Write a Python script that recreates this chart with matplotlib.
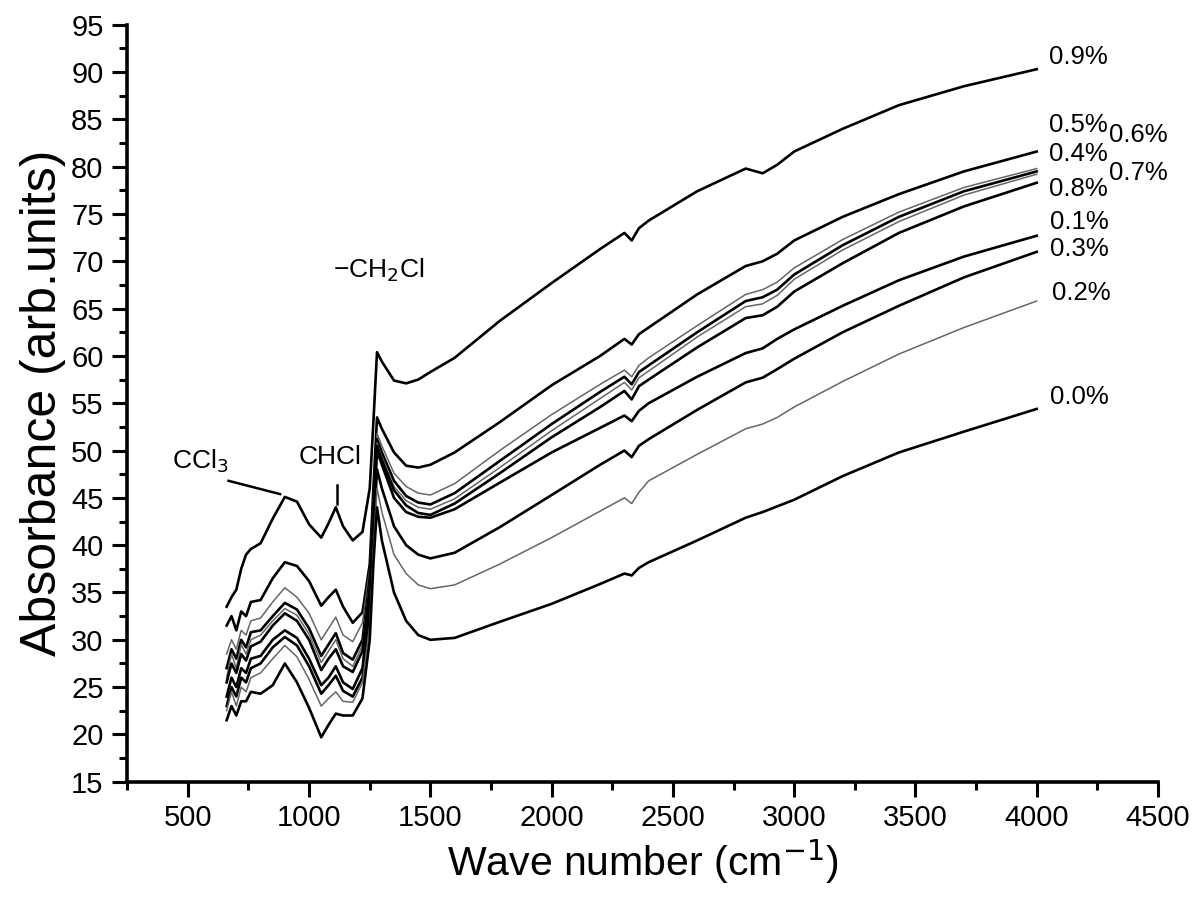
import matplotlib.pyplot as plt
from matplotlib.ticker import MultipleLocator

plt.rcParams['font.family'] = ['Liberation Sans', 'DejaVu Sans']

# wave numbers (cm-1) shared by all spectra
wn = [660, 680, 700, 720, 740, 760, 800, 850, 900, 950, 1000, 1050, 1080, 1110, 1140,
      1180, 1220, 1250, 1265, 1280, 1300, 1350, 1400, 1450, 1500,
      1600, 1786, 2000, 2200, 2300, 2330, 2360, 2400, 2600, 2800, 2870, 2930, 3000,
      3200, 3432, 3700, 4000]

s09 = [33.5, 34.5, 35.3, 37.5, 39.0, 39.6, 40.2, 42.8, 45.1, 44.6, 42.2, 40.8, 42.3, 44.0, 42.0,
       40.5, 41.4, 46.0, 53.0, 60.4, 59.4, 57.4, 57.1, 57.5, 58.3,
       59.8, 63.7, 67.7, 71.3, 73.0, 72.2, 73.5, 74.3, 77.4, 79.8, 79.3, 80.2, 81.6,
       84.0, 86.5, 88.5, 90.3]
s05 = [31.5, 32.5, 31.0, 33.0, 32.5, 34.0, 34.2, 36.5, 38.2, 37.8, 36.2, 33.6, 34.5, 35.3, 33.5,
       31.8, 32.9, 38.0, 46.0, 53.5, 52.3, 49.8, 48.4, 48.2, 48.5,
       49.8, 53.0, 56.9, 60.0, 61.8, 61.2, 62.3, 63.0, 66.5, 69.5, 70.0, 70.8, 72.2,
       74.7, 77.1, 79.5, 81.6]
s06 = [28.5, 30.0, 29.0, 31.0, 30.5, 32.0, 32.3, 34.0, 35.5, 34.5, 32.8, 30.0, 31.2, 32.4, 30.5,
       29.8, 31.8, 37.5, 45.0, 51.8, 50.5, 47.6, 46.2, 45.5, 45.3,
       46.5, 50.0, 53.8, 57.0, 58.5, 57.8, 59.0, 59.8, 63.2, 66.5, 67.0, 67.8, 69.3,
       72.3, 75.2, 77.8, 79.8]
s04 = [27.0, 29.0, 28.0, 30.0, 29.2, 30.8, 31.0, 32.5, 33.9, 33.2, 31.2, 28.3, 29.5, 30.7, 28.6,
       27.9, 30.0, 36.5, 44.5, 51.2, 49.8, 46.8, 45.2, 44.5, 44.3,
       45.5, 48.9, 52.8, 56.2, 57.8, 57.0, 58.3, 59.0, 62.5, 65.8, 66.2, 67.0, 68.6,
       71.7, 74.7, 77.4, 79.5]
s07 = [26.0, 28.5, 27.0, 29.5, 28.5, 30.0, 30.5, 32.0, 33.3, 32.6, 30.6, 27.6, 28.8, 30.0, 28.0,
       27.2, 29.4, 36.0, 44.0, 50.8, 49.3, 46.2, 44.7, 44.0, 43.8,
       44.9, 48.2, 52.1, 55.5, 57.2, 56.4, 57.7, 58.4, 62.0, 65.2, 65.5, 66.4, 68.1,
       71.2, 74.2, 77.0, 79.2]
s08 = [25.5, 27.5, 26.5, 28.5, 27.8, 29.3, 29.8, 31.5, 32.8, 32.0, 30.0, 26.8, 28.0, 29.0, 27.2,
       26.6, 28.8, 35.5, 43.5, 50.5, 49.0, 45.8, 44.2, 43.4, 43.2,
       44.4, 47.6, 51.4, 54.6, 56.3, 55.4, 56.8, 57.5, 60.9, 64.0, 64.3, 65.2, 66.8,
       69.8, 73.0, 75.8, 78.3]
s01 = [24.0, 26.0, 25.0, 27.0, 26.5, 28.0, 28.3, 30.0, 31.0, 30.2, 28.0, 25.2, 26.0, 27.2, 25.5,
       24.8, 27.0, 34.0, 42.5, 50.0, 48.5, 45.0, 43.5, 43.0, 42.9,
       43.8, 46.6, 49.8, 52.4, 53.7, 53.1, 54.2, 55.0, 57.8, 60.3, 60.8, 61.8, 62.8,
       65.3, 68.0, 70.5, 72.7]
s03 = [23.0, 25.0, 24.0, 26.0, 25.5, 27.0, 27.5, 29.2, 30.3, 29.4, 27.2, 24.3, 25.2, 26.2, 24.6,
       24.0, 26.0, 32.5, 41.0, 48.0, 46.0, 42.0, 40.0, 39.0, 38.6,
       39.2, 41.9, 45.3, 48.5, 50.0, 49.3, 50.5, 51.2, 54.3, 57.2, 57.7, 58.6, 59.7,
       62.5, 65.3, 68.3, 71.0]
s02 = [22.5, 24.5, 23.0, 25.0, 24.5, 26.0, 26.5, 28.0, 29.4, 28.2, 25.8, 23.0, 23.8, 24.5, 23.5,
       23.4, 25.5, 31.5, 39.5, 46.0, 43.5, 39.0, 37.0, 35.8, 35.4,
       35.8, 38.0, 40.8, 43.6, 45.0, 44.4, 45.6, 46.8, 49.6, 52.3, 52.8, 53.5, 54.6,
       57.3, 60.2, 63.0, 65.8]
s00 = [21.5, 23.0, 22.0, 23.5, 23.5, 24.5, 24.3, 25.2, 27.5, 25.5, 22.8, 19.7, 21.0, 22.2, 22.0,
       22.0, 23.8, 30.0, 38.0, 44.0, 40.5, 35.0, 32.0, 30.5, 30.0,
       30.2, 31.9, 33.8, 35.9, 37.0, 36.8, 37.6, 38.2, 40.5, 42.9, 43.5, 44.1, 44.8,
       47.3, 49.8, 52.0, 54.4]

series = [s09, s05, s06, s04, s07, s08, s01, s03, s02, s00]
grey = [False, False, True, False, True, False, False, False, True, False]

labels = ['0.9%', '0.5%', '0.6%', '0.4%', '0.7%', '0.8%', '0.1%', '0.3%', '0.2%', '0.0%']
label_x = [4050, 4050, 4300, 4050, 4300, 4050, 4055, 4055, 4065, 4055]
label_y = [91.6, 84.4, 83.3, 81.3, 79.3, 77.6, 74.1, 71.3, 66.7, 55.7]

fig = plt.figure(figsize=(12, 9.09), dpi=100)
ax = fig.add_axes([0.106, 0.14, 0.859, 0.8328])

for ys, g in zip(series, grey):
    if g:
        ax.plot(wn, ys, color='#666666', lw=1.1)
    else:
        ax.plot(wn, ys, color='black', lw=1.9)

for t, x, y in zip(labels, label_x, label_y):
    ax.text(x, y, t, fontsize=18.5, ha='left', va='center')

# band assignments
ax.text(550, 48.9, r'CCl$_3$', fontsize=19, ha='center', va='center')
ax.plot([668, 880], [46.8, 45.4], color='black', lw=1.8)
ax.text(1086, 49.3, 'CHCl', fontsize=19, ha='center', va='center')
ax.plot([1115, 1115], [46.4, 44.3], color='black', lw=1.8)
ax.text(1287, 69.1, '\u2212CH$_2$Cl', fontsize=19, ha='center', va='center')

ax.set_xlim(250, 4500)
ax.set_ylim(15, 95)
ax.xaxis.set_major_locator(MultipleLocator(500))
ax.xaxis.set_minor_locator(MultipleLocator(250))
ax.yaxis.set_major_locator(MultipleLocator(5))
ax.yaxis.set_minor_locator(MultipleLocator(2.5))
ax.tick_params(which='major', direction='out', length=11, width=2.2, labelsize=21, pad=6)
ax.tick_params(axis='x', which='major', pad=5)
ax.tick_params(which='minor', direction='out', length=6, width=2.2)

ax.spines['top'].set_visible(False)
ax.spines['right'].set_visible(False)
ax.spines['left'].set_linewidth(2.6)
ax.spines['bottom'].set_linewidth(2.6)

ax.set_xlabel('Wave number (cm$^{-1}$)', fontsize=29.5, labelpad=4)
ax.set_ylabel('Absorbance (arb.units)', fontsize=36, labelpad=4)

plt.savefig('out.png', dpi=100)
